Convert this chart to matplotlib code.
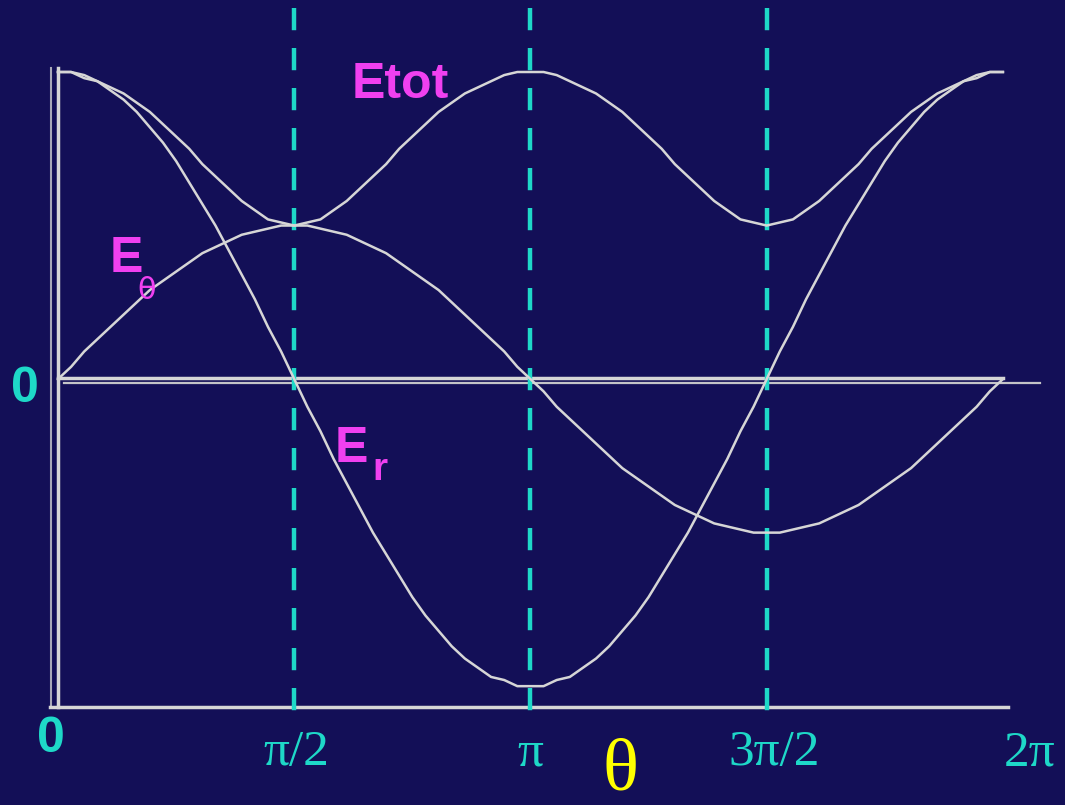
import numpy as np
import matplotlib.pyplot as plt

# -----------------------------
# DADOS (passo de 5 graus)
# -----------------------------
ang_graus = list(range(0, 361, 5))

E_r = [1.00, 1.00, 0.98, 0.97, 0.94, 0.91, 0.87, 0.82, 0.77, 0.71,
       0.64, 0.57, 0.50, 0.42, 0.34, 0.26, 0.17, 0.09, 0.00,
       -0.09, -0.17, -0.26, -0.34, -0.42, -0.50, -0.57, -0.64, -0.71,
       -0.77, -0.82, -0.87, -0.91, -0.94, -0.97, -0.98, -1.00, -1.00,
       -1.00, -0.98, -0.97, -0.94, -0.91, -0.87, -0.82, -0.77, -0.71,
       -0.64, -0.57, -0.50, -0.42, -0.34, -0.26, -0.17, -0.09, 0.00,
       0.09, 0.17, 0.26, 0.34, 0.42, 0.50, 0.57, 0.64, 0.71,
       0.77, 0.82, 0.87, 0.91, 0.94, 0.97, 0.98, 1.00, 1.00]

E_theta = [0.00, 0.04, 0.09, 0.13, 0.17, 0.21, 0.25, 0.29, 0.32, 0.35,
           0.38, 0.41, 0.43, 0.45, 0.47, 0.48, 0.49, 0.50, 0.50,
           0.50, 0.49, 0.48, 0.47, 0.45, 0.43, 0.41, 0.38, 0.35,
           0.32, 0.29, 0.25, 0.21, 0.17, 0.13, 0.09, 0.04, 0.00,
           -0.04, -0.09, -0.13, -0.17, -0.21, -0.25, -0.29, -0.32, -0.35,
           -0.38, -0.41, -0.43, -0.45, -0.47, -0.48, -0.49, -0.50, -0.50,
           -0.50, -0.49, -0.48, -0.47, -0.45, -0.43, -0.41, -0.38, -0.35,
           -0.32, -0.29, -0.25, -0.21, -0.17, -0.13, -0.09, -0.04, 0.00]

E_tot = [1.00, 1.00, 0.99, 0.97, 0.95, 0.93, 0.90, 0.87, 0.83, 0.79,
         0.75, 0.70, 0.66, 0.62, 0.58, 0.55, 0.52, 0.51, 0.50,
         0.51, 0.52, 0.55, 0.58, 0.62, 0.66, 0.70, 0.75, 0.79,
         0.83, 0.87, 0.90, 0.93, 0.95, 0.97, 0.99, 1.00, 1.00,
         1.00, 0.99, 0.97, 0.95, 0.93, 0.90, 0.87, 0.83, 0.79,
         0.75, 0.70, 0.66, 0.62, 0.58, 0.55, 0.52, 0.51, 0.50,
         0.51, 0.52, 0.55, 0.58, 0.62, 0.66, 0.70, 0.75, 0.79,
         0.83, 0.87, 0.90, 0.93, 0.95, 0.97, 0.99, 1.00, 1.00]

marcas = [np.pi / 2, np.pi, 3 * np.pi / 2]
rotulos = ["π/2", "π", "3π/2", "2π"]
pos_rotulos = [1.582, 3.143, 4.761, 6.463]

theta = np.radians(ang_graus)

# -----------------------------
# CORES
# -----------------------------
fundo = "#130f57"
branco = "#d6d6d6"
ciano = "#1ed8c8"
magenta = "#f040f0"

fig = plt.figure(figsize=(10.65, 8.05), dpi=100, facecolor=fundo)
ax = fig.add_axes([0, 0, 1, 1])
ax.set_facecolor(fundo)
ax.set_xlim(-0.3856, 6.696)
ax.set_ylim(-1.387, 1.2345)
ax.axis("off")

# eixos
ax.plot([0, 0], [1.013, -1.068], color=branco, lw=2.5)
ax.plot([-0.047, -0.047], [1.013, -1.068], color="#a8a8b8", lw=1.5)
ax.plot([-0.053, 6.316], [-1.068, -1.068], color=branco, lw=2.5)
ax.plot([0, 2 * np.pi], [0.003, 0.003], color=branco, lw=2.5)
ax.plot([0.04, 6.53], [-0.013, -0.013], color="#c4c4c8", lw=1.6)

# linhas tracejadas
for m in marcas:
    ax.plot([m, m], [1.21, -1.12], color=ciano, lw=3.2,
            linestyle=(0, (5, 4)))

# curvas
ax.plot(theta, E_r, color=branco, lw=1.8)
ax.plot(theta, E_theta, color=branco, lw=1.8)
ax.plot(theta, E_tot, color=branco, lw=1.8)

# textos
sans = "Liberation Sans"
serif = "Liberation Serif"
ax.text(1.955, 0.915, "Etot", color=magenta, fontsize=36, fontweight="bold",
        family=sans, ha="left", va="baseline")
ax.text(0.346, 0.349, "E", color=magenta, fontsize=36, fontweight="bold",
        family=sans, ha="left", va="baseline")
ax.text(0.525, 0.262, "θ", color=magenta, fontsize=22,
        family="DejaVu Sans", ha="left", va="baseline")
ax.text(1.842, -0.270, "E", color=magenta, fontsize=36, fontweight="bold",
        family=sans, ha="left", va="baseline")
ax.text(2.088, -0.329, "r", color=magenta, fontsize=28, fontweight="bold",
        family=sans, ha="left", va="baseline")

ax.text(-0.219, -0.075, "0", color=ciano, fontsize=36, fontweight="bold",
        family=sans, ha="center", va="baseline")
ax.text(-0.046, -1.215, "0", color=ciano, fontsize=36, fontweight="bold",
        family=sans, ha="center", va="baseline")

for p, r in zip(pos_rotulos, rotulos):
    ax.text(p, -1.257, r, color=ciano, fontsize=37, family=serif,
            ha="center", va="baseline")

ax.text(3.737, -1.335, "θ", color="#ffff00", fontsize=54, family=serif,
        ha="center", va="baseline")

fig.savefig("out.png", dpi=100, facecolor=fundo)
